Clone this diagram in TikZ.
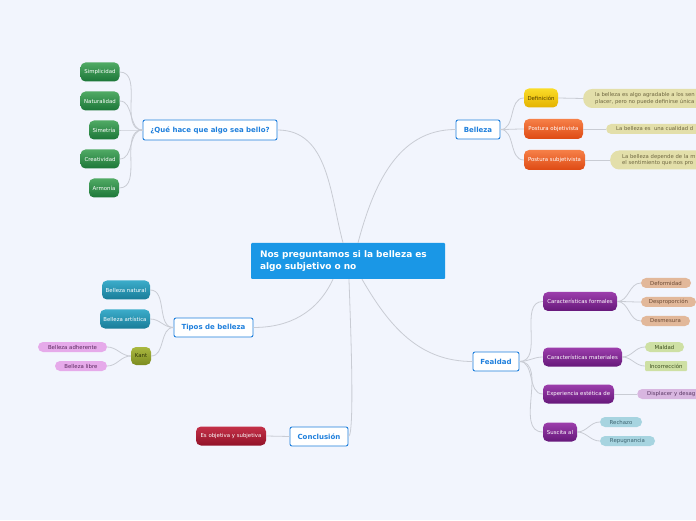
\documentclass[tikz,border=0pt]{standalone}
\usepackage{fontspec}
\setmainfont{DejaVu Sans}
\definecolor{bgcol}{HTML}{F2F5FD}
\definecolor{topicblue}{HTML}{1E7FDC}
\definecolor{centralblue}{HTML}{1A97E6}
\definecolor{linkgray}{HTML}{C9CCD4}
\definecolor{greentop}{RGB}{80,170,100}
\definecolor{greenbot}{RGB}{28,118,56}
\definecolor{yellowtop}{RGB}{250,220,40}
\definecolor{yellowbot}{RGB}{228,178,0}
\definecolor{yellowtxt}{RGB}{80,60,0}
\definecolor{orangetop}{RGB}{246,128,72}
\definecolor{orangebot}{RGB}{222,74,20}
\definecolor{beigefill}{RGB}{227,223,170}
\definecolor{beigetxt}{RGB}{110,102,64}
\definecolor{tealtop}{RGB}{60,172,202}
\definecolor{tealbot}{RGB}{24,124,152}
\definecolor{olivetop}{RGB}{170,184,64}
\definecolor{olivebot}{RGB}{124,140,32}
\definecolor{olivetxt}{RGB}{50,55,10}
\definecolor{pinkfill}{RGB}{230,170,234}
\definecolor{pinktxt}{RGB}{92,42,96}
\definecolor{purpletop}{RGB}{156,62,172}
\definecolor{purplebot}{RGB}{102,24,122}
\definecolor{brownfill}{RGB}{226,184,154}
\definecolor{browntxt}{RGB}{108,74,52}
\definecolor{limefill}{RGB}{206,224,164}
\definecolor{limetxt}{RGB}{62,80,32}
\definecolor{lilacfill}{RGB}{216,182,224}
\definecolor{lilactxt}{RGB}{90,56,100}
\definecolor{skyfill}{RGB}{167,212,224}
\definecolor{skytxt}{RGB}{60,99,112}
\definecolor{redtop}{RGB}{196,48,72}
\definecolor{redbot}{RGB}{146,18,40}
\tikzset{
topic/.style={draw=topicblue, line width=0.9pt, fill=white, rounded corners=2pt, text=topicblue,
  font=\fontsize{7}{8}\selectfont\bfseries, minimum height=19pt, inner sep=0pt},
sub/.style 2 args={rounded corners=5pt, top color=#1, bottom color=#2, text=white,
  font=\fontsize{5.4}{6}\selectfont, minimum height=19pt, inner sep=0pt},
leaf/.style={rounded corners=5pt, fill=#1, font=\fontsize{5.4}{6}\selectfont, minimum height=10pt, inner sep=0pt},
note/.style={rounded corners=5pt, fill=beigefill, text=beigetxt, anchor=west, align=left,
  font=\fontsize{5.3}{6.6}\selectfont, minimum height=10pt, inner ysep=0pt},
link/.style={draw=linkgray, line width=0.8pt}
}

\begin{document}
\begin{tikzpicture}[x=1pt,y=1pt]
\useasboundingbox (0,0) rectangle (696,520);
\clip (0,0) rectangle (696,520);
\fill[bgcol] (0,0) rectangle (696,520);

% central topic
\node[fill=centralblue, rounded corners=1pt, minimum width=194pt, minimum height=36pt, text width=176pt, align=left,
  text=white, font=\fontsize{9}{12.5}\selectfont\bfseries] (central) at (348,259)
  {Nos preguntamos si la belleza es\\algo subjetivo o no};

% main topics
\node[topic, minimum width=134pt, minimum height=20pt] (qhq) at (210,390) {¿Qué hace que algo sea bello?};
\node[topic, minimum width=44pt] (belleza) at (478,390.5) {Belleza};
\node[topic, minimum width=79pt] (tipos) at (213.5,192.5) {Tipos de belleza};
\node[topic, minimum width=46pt] (feal) at (496,158.5) {Fealdad};
\node[topic, minimum width=58pt] (concl) at (319,83.5) {Conclusión};

\draw[link] (qhq.east) to[out=0,in=105] ([xshift=-5pt]central.north);
\draw[link] (belleza.west) to[out=180,in=75] ([xshift=10pt]central.north);
\draw[link] ([xshift=-15pt]central.south) to[out=-115,in=0] (tipos.east);
\draw[link] ([xshift=14pt]central.south) to[out=-60,in=180] (feal.west);
\draw[link] ([xshift=1pt]central.south) to[out=-90,in=0,looseness=0.12] (concl.east);

% Que hace que algo sea bello
\node[sub={greentop}{greenbot}, minimum width=39pt] (simp) at (100,448) {Simplicidad};
\node[sub={greentop}{greenbot}, minimum width=39pt] (natu) at (100,419) {Naturalidad};
\node[sub={greentop}{greenbot}, minimum width=30pt] (sime) at (104,390) {Simetría};
\node[sub={greentop}{greenbot}, minimum width=39pt] (crea) at (100,361) {Creatividad};
\node[sub={greentop}{greenbot}, minimum width=30pt] (armo) at (104,332) {Armonía};
\foreach \n in {simp,natu,sime,crea,armo}
  \draw[link] (qhq.west) to[out=180,in=0] (\n.east);

% Belleza
\node[sub={yellowtop}{yellowbot}, text=yellowtxt, minimum width=34pt] (defi) at (541,422) {Definición};
\node[sub={orangetop}{orangebot}, minimum width=59pt, minimum height=20pt] (pobj) at (553.5,391) {Postura objetivista};
\node[sub={orangetop}{orangebot}, minimum width=61pt, minimum height=20pt] (psub) at (554.5,360) {Postura subjetivista};
\foreach \n in {defi,pobj,psub}
  \draw[link] (belleza.east) to[out=0,in=180] (\n.west);
% these three run past the right edge
\node[note, minimum height=19pt, rounded corners=9pt, inner xsep=12pt] (ldef) at (583,421.5)
  {la belleza es algo agradable a los sen\\placer, pero no puede definirse única};
\node[note, inner xsep=10pt] (lobj) at (606,391)
  {La belleza es\ \ una cualidad d};
\node[note, minimum height=19pt, rounded corners=9pt, inner xsep=12pt] (lsub) at (610,360)
  {La belleza depende de la m\\el sentimiento que nos pro};
\draw[link] (defi.east) -- (ldef.west);
\draw[link] (pobj.east) -- (lobj.west);
\draw[link] (psub.east) -- (lsub.west);

% Tipos de belleza
\node[sub={tealtop}{tealbot}, minimum width=48pt] (bnat) at (126,230) {Belleza natural};
\node[sub={tealtop}{tealbot}, minimum width=50pt] (bart) at (125,201) {Belleza artística};
\node[sub={olivetop}{olivebot}, text=olivetxt, minimum width=20pt, minimum height=18pt] (kant) at (141,164) {Kant};
\foreach \n in {bnat,bart,kant}
  \draw[link] (tipos.west) to[out=180,in=0] (\n.east);
\node[leaf=pinkfill, text=pinktxt, minimum width=69pt] (badh) at (72.5,173) {Belleza adherente};
\node[leaf=pinkfill, text=pinktxt, minimum width=52pt] (blib) at (81,154) {Belleza libre};
\foreach \n in {badh,blib}
  \draw[link] (kant.west) to[out=180,in=0] (\n.east);

% Fealdad
\node[sub={purpletop}{purplebot}, minimum width=74pt] (cfor) at (580,218.5) {Características formales};
\node[sub={purpletop}{purplebot}, minimum width=79pt] (cmat) at (582.5,163) {Características materiales};
\node[sub={purpletop}{purplebot}, minimum width=71pt] (expe) at (578.5,126) {Experiencia estética de};
\node[sub={purpletop}{purplebot}, minimum width=34pt] (susc) at (560,88) {Suscita al};
\foreach \n in {cfor,cmat,expe,susc}
  \draw[link] (feal.east) to[out=0,in=180] (\n.west);
\node[leaf=brownfill, text=browntxt, minimum width=50pt] (defo) at (666,237) {Deformidad};
\node[leaf=brownfill, text=browntxt, minimum width=55pt] (desp) at (668.5,218) {Desproporción};
\node[leaf=brownfill, text=browntxt, minimum width=49pt] (desm) at (665.5,199) {Desmesura};
\foreach \n in {defo,desp,desm}
  \draw[link] (cfor.east) to[out=0,in=180] (\n.west);
\node[leaf=limefill, text=limetxt, minimum width=39pt] (mald) at (664.5,173) {Maldad};
\node[leaf=limefill, text=limetxt, rounded corners=1pt, minimum width=42pt] (inco) at (666,154) {Incorrección};
\foreach \n in {mald,inco}
  \draw[link] (cmat.east) to[out=0,in=180] (\n.west);
\node[leaf=lilacfill, text=lilactxt, anchor=west, inner xsep=10pt] (disp) at (637,126) {Displacer y desag};
\draw[link] (expe.east) -- (disp.west);
\node[leaf=skyfill, text=skytxt, minimum width=42pt] (rech) at (621,98) {Rechazo};
\node[leaf=skyfill, text=skytxt, minimum width=55pt] (repu) at (627.5,79) {Repugnancia};
\foreach \n in {rech,repu}
  \draw[link] (susc.east) to[out=0,in=180] (\n.west);

% Conclusion
\node[sub={redtop}{redbot}, minimum width=70pt] (esobj) at (231,84) {Es objetiva y subjetiva};
\draw[link] (concl.west) -- (esobj.east);
\end{tikzpicture}
\end{document}
